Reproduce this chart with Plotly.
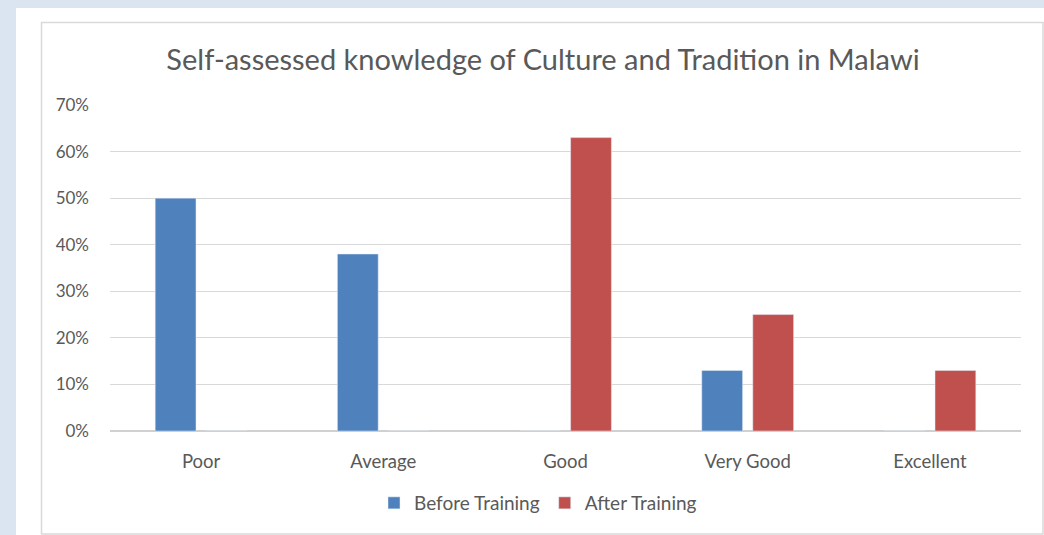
import plotly.graph_objects as go

categories = ["Poor", "Average", "Good", "Very Good", "Excellent"]
before = [0.50, 0.38, 0, 0.13, 0]
after = [0, 0, 0.63, 0.25, 0.13]

GRAY = "#595959"
FONT = "Lato, Carlito, Calibri, sans-serif"

fig = go.Figure()
fig.add_trace(go.Bar(x=categories, y=before, name="Before Training",
                     marker=dict(color="#4f81bd")))
fig.add_trace(go.Bar(x=categories, y=after, name="After Training",
                     marker=dict(color="#c0504d")))

# plot area: x 110..1021 px, y 105..431 px
L, R, T, B = 110, 1021, 105, 431
W, H = R - L, B - T


def px_x(p):
    return (p - L) / W


def px_y(p):
    return (B - p) / H


fig.update_layout(
    width=1044, height=535,
    margin=dict(l=L, r=1044 - R, t=T, b=535 - B),
    paper_bgcolor="#dbe5f1",
    plot_bgcolor="rgba(0,0,0,0)",
    font=dict(family=FONT, color=GRAY, size=17),
    barmode="group", bargap=0.44, bargroupgap=0.2,
    title=dict(text="Self-assessed knowledge of Culture and Tradition in Malawi",
               x=px_x(543), xref="paper", xanchor="center",
               y=1 - 60 / 535, yref="container", yanchor="middle",
               font=dict(size=29, color=GRAY, family=FONT)),
    legend=dict(orientation="h", x=px_x(538), xanchor="center",
                y=px_y(503), yanchor="middle",
                font=dict(size=19, color=GRAY), bgcolor="rgba(0,0,0,0)",
                traceorder="normal"),
    xaxis=dict(showgrid=False, showline=False, ticks="",
               ticklabelstandoff=17, tickfont=dict(size=18.5)),
    yaxis=dict(range=[0, 0.7], dtick=0.1, tickformat=".0%",
               showgrid=True, gridcolor="#d9d9d9", gridwidth=1,
               zeroline=True, zerolinecolor="#d0d0d0", zerolinewidth=1.5,
               showline=False, ticks="", ticklabelstandoff=20,
               tickfont=dict(size=17)),
    shapes=[
        dict(type="rect", xref="paper", yref="paper", layer="below",
             x0=px_x(16), x1=px_x(1046), y0=px_y(540), y1=px_y(8),
             fillcolor="white", line=dict(width=0)),
        dict(type="rect", xref="paper", yref="paper", layer="below",
             x0=px_x(41.5), x1=px_x(1043), y0=px_y(534), y1=px_y(22.5),
             fillcolor="white", line=dict(color="#d9d9d9", width=1.5)),
    ],
)

fig.write_html(
    "out.html",
    config={"displayModeBar": False},
    post_script="document.body.style.margin='0';"
                "document.body.style.background='#dbe5f1';",
)
